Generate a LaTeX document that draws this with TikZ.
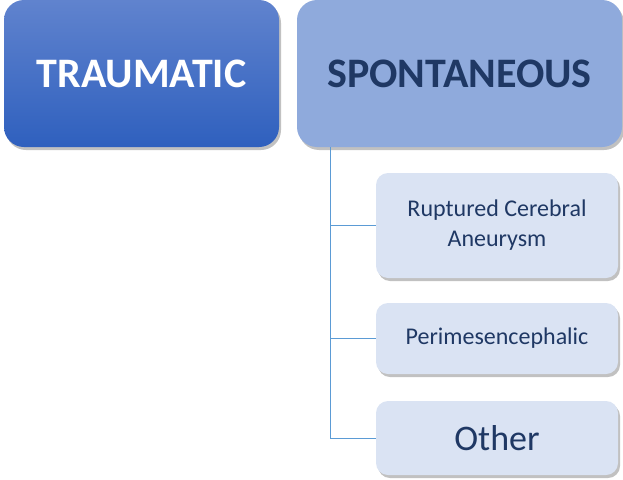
\documentclass[tikz,border=0pt]{standalone}
\usepackage{fontspec}
\setmainfont{Carlito}
\usetikzlibrary{shadows}
\definecolor{tradtop}{RGB}{96,131,206}
\definecolor{tradbot}{RGB}{47,96,190}
\definecolor{spont}{RGB}{143,170,220}
\definecolor{child}{RGB}{218,227,243}
\definecolor{darktext}{RGB}{31,56,100}
\definecolor{conncol}{RGB}{91,155,213}
\tikzset{
  boxshadow/.style={drop shadow={shadow xshift=2pt,shadow yshift=-3pt,opacity=0.35,fill=black!70}},
  topbox/.style={rectangle,rounded corners=20pt,minimum width=275pt,minimum height=147pt,inner sep=0pt,boxshadow,font=\fontsize{42}{50}\selectfont\bfseries},
  childbox/.style={rectangle,rounded corners=12pt,minimum width=242pt,inner sep=0pt,fill=child,boxshadow,text=darktext,align=center},
  conn/.style={draw=conncol,line width=1pt}
}
\begin{document}
\begin{tikzpicture}[x=1pt,y=-1pt]
\useasboundingbox (0,0) rectangle (623,479);
\node[topbox,top color=tradtop,bottom color=tradbot,text=white] (t) at (141.5,73.5) {TRAUMATIC};
\node[topbox,minimum width=325pt,fill=spont,text=darktext] (s) at (459.5,73.5) {SPONTANEOUS};
\node[childbox,minimum height=105pt,font=\fontsize{24}{30}\selectfont] (c1) at (497,225.5) {Ruptured Cerebral\\Aneurysm};
\node[childbox,minimum height=71pt,font=\fontsize{24}{30}\selectfont] (c2) at (497,338.5) {Perimesencephalic};
\node[childbox,minimum height=74pt,font=\fontsize{36}{42}\selectfont] (c3) at (497,438) {Other};
\coordinate (v) at (330,147);
\draw[conn] (v) |- (c1.west);
\draw[conn] (v) |- (c2.west);
\draw[conn] (v) |- (c3.west);
\end{tikzpicture}
\end{document}
